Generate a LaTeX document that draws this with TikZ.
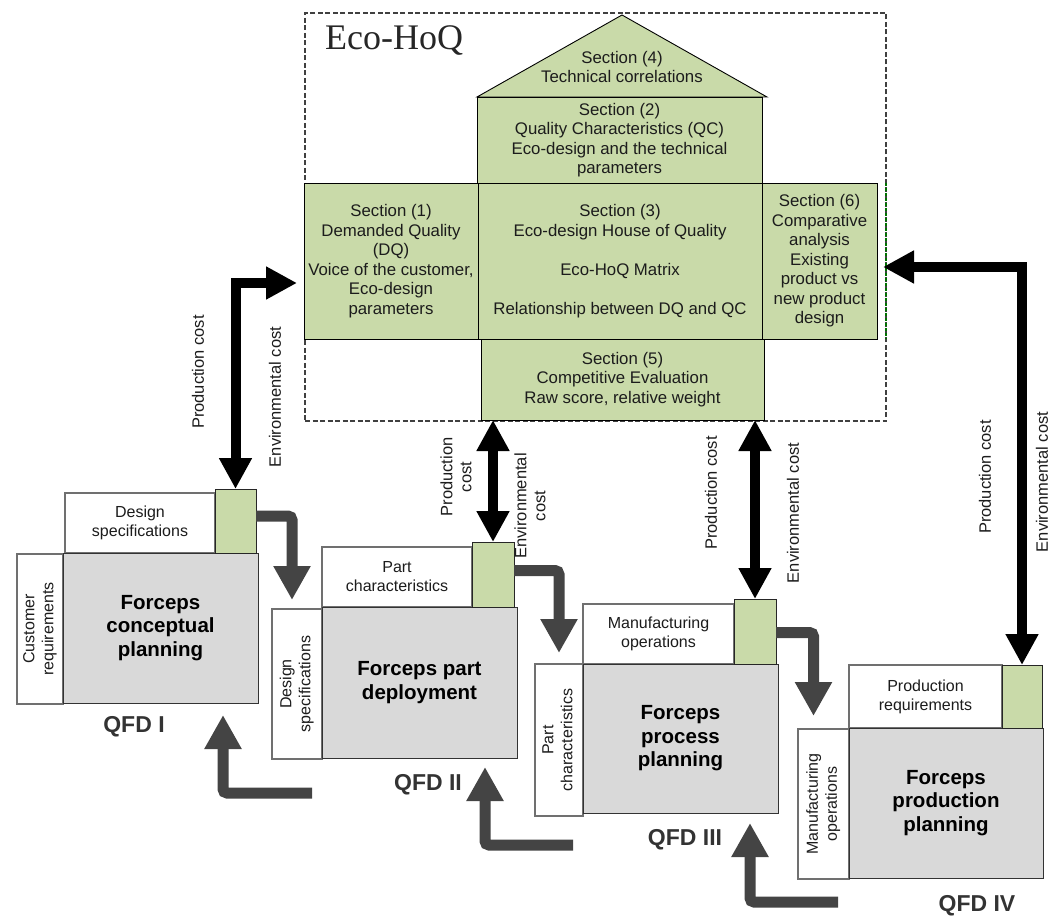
\documentclass[tikz,border=0pt]{standalone}
\usepackage{fontspec}
\usepackage{graphicx}
\setmainfont{Liberation Sans}
\newfontfamily\titleserif{Liberation Serif}
\usetikzlibrary{arrows.meta,calc}

\definecolor{ecogreen}{HTML}{C9DAA9}
\definecolor{qfdgrey}{HTML}{D9D9D9}
\definecolor{arrowgrey}{HTML}{444444}
\definecolor{edgegrey}{HTML}{707070}
\definecolor{inkgrey}{HTML}{1C1C1C}

\tikzset{
  hoqframe/.style={draw=black!75, line width=2pt, dash pattern=on 5pt off 2.5pt, inner sep=0pt, outer sep=0pt},
  roof/.style={draw=black, line width=0.9pt, fill=ecogreen},
  sec/.style={draw=black, line width=0.9pt, fill=ecogreen, inner sep=2pt, outer sep=0pt,
    align=center, text=inkgrey, font=\fontsize{16.8}{19.5}\selectfont},
  sectext/.style={align=center, text=inkgrey, font=\fontsize{16.8}{19.5}\selectfont, inner sep=0pt},
  wbox/.style={draw=edgegrey, line width=1.6pt, fill=white, inner sep=0pt, outer sep=0pt,
    align=center, text=inkgrey, font=\fontsize{16}{19}\selectfont},
  mbox/.style={draw=black!80, line width=0.9pt, fill=qfdgrey, inner sep=0pt, outer sep=0pt,
    align=center, text=black, font=\bfseries\fontsize{20.5}{23.5}\selectfont},
  gbox/.style={draw=black!85, line width=0.9pt, fill=ecogreen, inner sep=0pt, outer sep=0pt},
  qfd/.style={text=black!80, font=\bfseries\fontsize{23}{23}\selectfont, inner sep=0pt},
  garrow/.style={draw=arrowgrey, line width=11pt, rounded corners=4pt,
    -{Triangle[length=34pt,width=35pt]}},
  barrow/.style={draw=black, line width=10pt,
    {Triangle[length=31pt,width=31pt]}-{Triangle[length=31pt,width=31pt]}},
  lab/.style={rotate=90, align=center, text=inkgrey, font=\fontsize{16.5}{19}\selectfont, inner sep=1pt},
}

\newcommand{\sidetext}[2]{\rotatebox{90}{\begin{tabular}{@{}c@{}}#1\\#2\end{tabular}}}

\begin{document}
\begin{tikzpicture}[x=1pt,y=-1pt]
\useasboundingbox (0,0) rectangle (1052,917);

% ---------- Eco-House of Quality ----------
\node[hoqframe, minimum width=581pt, minimum height=408pt] (hoq) at (595.5,217) {};
\node[anchor=west, text=black!85, font=\titleserif\fontsize{36}{36}\selectfont, inner sep=0pt] (title) at (325,41) {Eco-HoQ};

\draw[roof] (477,97) -- (622,15) -- (767,97) -- cycle;
\node[sectext] (s4) at (622,67) {Section (4)\\Technical correlations};

\node[sec, minimum width=285pt, minimum height=86pt] (s2) at (619.5,140)
  {Section (2)\\Quality Characteristics (QC)\\Eco-design and the technical\\parameters};
\node[sec, minimum width=174pt, minimum height=156pt] (s1) at (391,261)
  {Section (1)\\Demanded Quality\\(DQ)\\Voice of the customer,\\Eco-design\\parameters};
\node[sec, minimum width=284pt, minimum height=156pt] (s3) at (620,261)
  {Section (3)\\Eco-design House of Quality\\[19.5pt]Eco-HoQ Matrix\\[19.5pt]Relationship between DQ and QC};
\node[sec, minimum width=115pt, minimum height=156pt] (s6) at (819.5,261)
  {Section (6)\\Comparative\\analysis\\Existing\\product vs\\new product\\design};
\node[sec, minimum width=283pt, minimum height=81pt] (s5) at (622.5,379.5)
  {Section (5)\\Competitive Evaluation\\Raw score, relative weight};

% green edge beside section 6
\draw[draw=green!45!black, line width=2pt, dash pattern=on 3pt off 2pt]
  (hoq.north east |- s6.north) -- (hoq.north east |- s6.south);

% ---------- QFD I ----------
\node[wbox, minimum width=46pt, minimum height=150pt] (L1) at (40,629) {\sidetext{Customer}{requirements}};
\node[wbox, minimum width=150pt, minimum height=60pt] (T1) at (140,523) {Design\\specifications};
\node[mbox, minimum width=195pt, minimum height=150pt] (M1) at (160.5,628) {Forceps\\conceptual\\planning};
\node[gbox, minimum width=41pt, minimum height=64pt] (G1) at (235.5,521) {};
\node[qfd] (Q1) at (134,727) {QFD I};

% ---------- QFD II ----------
\node[wbox, minimum width=50pt, minimum height=150pt] (L2) at (297,684) {\sidetext{Design}{specifications}};
\node[wbox, minimum width=150pt, minimum height=60pt] (T2) at (397,577) {Part\\characteristics};
\node[mbox, minimum width=195pt, minimum height=151pt] (M2) at (419.5,682.5) {Forceps part\\deployment};
\node[gbox, minimum width=42pt, minimum height=65pt] (G2) at (493,574.5) {};
\node[qfd] (Q2) at (428,785) {QFD II};

% ---------- QFD III ----------
\node[wbox, minimum width=48pt, minimum height=152pt] (L3) at (559,740) {\sidetext{Part}{characteristics}};
\node[wbox, minimum width=151pt, minimum height=60pt] (T3) at (658.5,634) {Manufacturing\\operations};
\node[mbox, minimum width=195pt, minimum height=149pt] (M3) at (680.5,738.5) {Forceps\\process\\planning};
\node[gbox, minimum width=42pt, minimum height=65pt] (G3) at (755,631.5) {};
\node[qfd] (Q3) at (685,840) {QFD III};

% ---------- QFD IV ----------
\node[wbox, minimum width=51pt, minimum height=150pt] (L4) at (823.5,804) {\sidetext{Manufacturing}{operations}};
\node[wbox, minimum width=153pt, minimum height=63pt] (T4) at (925.5,696.5) {Production\\requirements};
\node[mbox, minimum width=194pt, minimum height=150pt] (M4) at (946,803) {Forceps\\production\\planning};
\node[gbox, minimum width=40pt, minimum height=63pt] (G4) at (1022,696.5) {};
\node[qfd] (Q4) at (977,906) {QFD IV};

% ---------- flow between QFD stages ----------
\draw[garrow] ([yshift=5pt]G1.east) -| ([xshift=-5pt,yshift=9pt]L2.north);
\draw[garrow] ([yshift=4pt]G2.east) -| ([yshift=11pt]L3.north);
\draw[garrow] ([yshift=-1pt]G3.east) -| ([xshift=-10pt,yshift=13pt]L4.north);

\coordinate (f1) at (312,793);
\coordinate (f2) at (573,845);
\coordinate (f3) at (838,902);
\draw[garrow] (f1) -| ([xshift=-35pt,yshift=-12pt]M1.south east);
\draw[garrow] (f2) -| ([xshift=-32pt,yshift=-9pt]M2.south east);
\draw[garrow] (f3) -| ([xshift=-28pt,yshift=-10pt]M3.south east);

% ---------- cost links to the Eco-HoQ ----------
\draw[barrow] ([xshift=-7pt,yshift=-22pt]s1.west) -| (G1.north);
\draw[barrow] (G2.north) -- (G2.north |- s5.south);
\draw[barrow] (G3.north) -- (G3.north |- s5.south);
\draw[barrow] ([xshift=6pt,yshift=-6pt]s6.east) -| (G4.north);

\node[lab] (pc1) at (198,372) {Production cost};
\node[lab] (ec1) at (275,397) {Environmental cost};
\node[lab] (pc2) at (456,477) {Production\\cost};
\node[lab] (ec2) at (530,506) {Environmental\\cost};
\node[lab] (pc3) at (711,493) {Production cost};
\node[lab] (ec3) at (793,513) {Environmental cost};
\node[lab] (pc4) at (985,477) {Production cost};
\node[lab] (ec4) at (1042,482) {Environmental cost};
\end{tikzpicture}
\end{document}
